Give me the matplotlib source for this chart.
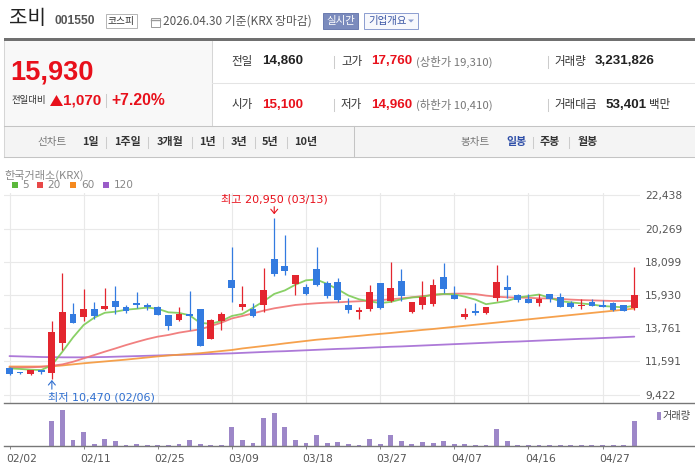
import matplotlib
matplotlib.use('Agg')
import numpy as np
import matplotlib.pyplot as plt
import matplotlib.transforms as mtransforms
from matplotlib.patches import Rectangle, Polygon
from matplotlib.lines import Line2D

# ---------------- data ----------------
dates = ['02/02', '02/03', '02/04', '02/05', '02/06', '02/09', '02/10', '02/11', '02/12', '02/13',
         '02/19', '02/20', '02/23', '02/24', '02/25', '02/26', '02/27',
         '03/03', '03/04', '03/05', '03/06', '03/09', '03/10', '03/11', '03/12', '03/13',
         '03/16', '03/17', '03/18', '03/19', '03/20', '03/23', '03/24', '03/25', '03/26', '03/27',
         '03/30', '03/31',
         '04/01', '04/02', '04/03', '04/06', '04/07', '04/08', '04/09', '04/10', '04/13', '04/14',
         '04/15', '04/16', '04/17', '04/20', '04/21', '04/22', '04/23', '04/24', '04/27', '04/28',
         '04/29', '04/30']
tick_labels = ['02/02', '02/11', '02/25', '03/09', '03/18', '03/27', '04/07', '04/16', '04/27']

opens = [11180, 10920, 10790, 11050, 10860, 12820, 14690, 14510, 15020, 15020,
         15540, 15150, 15430, 15280, 15150, 14620, 14300, 14690, 15020, 13080,
         14230, 16910, 15170, 15020, 15280, 18280, 17830, 16670, 16430, 17630,
         16740, 16780, 15280, 14840, 15020, 16710, 15560, 16840, 14820, 15280,
         15340, 17110, 15930, 14510, 14880, 14750, 15730, 16450, 15930, 15670,
         15410, 16000, 15800, 15410, 15230, 15470, 15280, 15410, 15280, 15100]
highs = [11250, 10920, 11030, 11060, 14230, 17350, 15390, 16300, 15470, 16390,
         16520, 15280, 16130, 15430, 15210, 14620, 15150, 16190, 15020, 14340,
         14820, 19070, 16520, 15410, 17690, 20950, 19850, 17240, 16630, 19070,
         16820, 17040, 15730, 15170, 16580, 16710, 18090, 17630, 15490, 16840,
         16980, 18020, 16520, 15080, 15410, 15150, 17890, 17240, 16000, 16000,
         16000, 16000, 16060, 15540, 15670, 15670, 15600, 15470, 15280, 17760]
lows = [10680, 10750, 10680, 10790, 10470, 12340, 14120, 14230, 14360, 14950,
        14690, 14780, 15100, 14950, 14650, 13670, 14250, 13670, 12620, 13080,
        13670, 15490, 14970, 14510, 14840, 17170, 17240, 15950, 15950, 16500,
        15760, 15470, 14780, 14380, 14880, 15040, 15490, 15540, 14780, 15020,
        15210, 16080, 15670, 14380, 14650, 14710, 15560, 15760, 15470, 15430,
        15210, 15490, 15150, 15100, 15020, 15230, 15170, 14910, 14860, 14960]
closes = [10790, 10860, 11030, 10900, 13510, 14820, 14120, 15020, 14580, 15210,
          15150, 14890, 15300, 15120, 14650, 13930, 14690, 14560, 12620, 14270,
          14690, 16410, 15340, 14580, 16260, 17320, 17520, 17240, 16020, 16560,
          15890, 15600, 14950, 14950, 16130, 15080, 16390, 15860, 15490, 15800,
          16580, 16300, 15670, 14690, 14780, 15150, 16780, 16260, 15600, 15430,
          15670, 15670, 15150, 15170, 15300, 15230, 15170, 14950, 14860, 15930]
volumes = [60000, 40000, 50000, 45000, 3250000, 4650000, 780000, 1810000, 260000, 900000,
           650000, 130000, 260000, 130000, 130000, 140000, 250000, 770000, 270000, 150000,
           150000, 2450000, 780000, 390000, 3620000, 4270000, 2460000, 770000, 400000, 1420000,
           380000, 520000, 250000, 160000, 900000, 280000, 1420000, 640000, 280000, 500000,
           380000, 650000, 270000, 260000, 150000, 150000, 2200000, 650000, 150000, 140000,
           130000, 140000, 150000, 130000, 120000, 130000, 80000, 130000, 140000, 3231826]

ma5 = [11140, 11100, 11050, 11030, 11350, 12230, 13160, 13970, 14450, 14770,
       14840, 14970, 15030, 15110, 15030, 14800, 14760, 14610, 14110, 14050,
       14230, 14560, 14700, 15100, 15520, 16000, 16230, 16600, 16890, 16940,
       16650, 16300, 15900, 15650, 15520, 15400, 15480, 15650, 15770, 15810,
       15950, 16000, 15970, 15820, 15630, 15330, 15430, 15540, 15760, 15860,
       15960, 15750, 15530, 15450, 15380, 15310, 15210, 15170, 15120, 15230]
ma20 = [11200, 11200, 11210, 11240, 11310, 11400, 11570, 11790, 12010, 12230,
        12440, 12660, 12860, 13050, 13210, 13320, 13470, 13580, 13690, 13900,
        14120, 14400, 14560, 14730, 14910, 15060, 15170, 15280, 15340, 15390,
        15430, 15450, 15490, 15520, 15560, 15600, 15650, 15710, 15780, 15860,
        15930, 15990, 16020, 16020, 15990, 15890, 15820, 15780, 15760, 15750,
        15710, 15700, 15670, 15630, 15600, 15580, 15560, 15540, 15540, 15540]
ma60 = [11260, 11260, 11260, 11260, 11270, 11330, 11400, 11470, 11530, 11590,
        11650, 11710, 11780, 11850, 11920, 11980, 12030, 12080, 12130, 12200,
        12270, 12340, 12440, 12520, 12600, 12680, 12770, 12850, 12930, 13010,
        13070, 13130, 13200, 13260, 13330, 13390, 13450, 13520, 13580, 13650,
        13710, 13780, 13850, 13920, 13990, 14060, 14130, 14200, 14270, 14340,
        14410, 14480, 14550, 14620, 14690, 14760, 14830, 14900, 14970, 15050]
ma120 = [11940, 11920, 11900, 11880, 11870, 11860, 11860, 11860, 11870, 11880,
         11900, 11920, 11940, 11960, 11980, 12000, 12020, 12040, 12060, 12080,
         12100, 12120, 12150, 12180, 12210, 12240, 12260, 12290, 12320, 12350,
         12380, 12410, 12430, 12460, 12490, 12520, 12550, 12570, 12600, 12630,
         12660, 12690, 12720, 12750, 12780, 12810, 12840, 12870, 12890, 12920,
         12950, 12980, 13010, 13040, 13070, 13090, 13120, 13150, 13180, 13210]
price_ticks = [9422, 11591, 13761, 15930, 18099, 20269, 22438]
ma_labels = ['5', '20', '60', '120']

# header info
name, code, market = '조비', '001550', '코스피'
asof = '2026.04.30 기준(KRX 장마감)'
price, change, pct = '15,930', '1,070', '+7.20%'

# ---------------- style ----------------
KR = ['Noto Sans CJK KR', 'DejaVu Sans']
LIB = ['Liberation Sans', 'DejaVu Sans']
DV = ['DejaVu Sans', 'Noto Sans CJK KR']
plt.rcParams['font.family'] = DV
RED = '#e8101b'
UP = '#e3262f'
DOWN = '#337be0'
ANN_BLUE = '#2f6fd0'
MA_COLORS = ['#7ccb55', '#f07272', '#f5973a', '#a46bd4']
LEG_COLORS = ['#5cb83c', '#e84848', '#f5891f', '#9a5cc8']
VOL = '#9d87c8'

W, H = 695, 471
fig = plt.figure(figsize=(W / 100, H / 100), dpi=100)
fig.patch.set_facecolor('white')


def fx(x):
    return x / W


def fy(y):
    return 1 - y / H


def T(x, y, s, size=8, color='#333', weight='normal', ha='left', va='center', family=KR):
    fig.text(fx(x), fy(y), s, fontsize=size, color=color, fontweight=weight,
             ha=ha, va=va, family=family)


def R(x0, y0, x1, y1, fc='none', ec='none', lw=0.7):
    fig.add_artist(Rectangle((fx(x0), fy(y1)), fx(x1) - fx(x0), fy(y0) - fy(y1),
                             transform=fig.transFigure, facecolor=fc, edgecolor=ec, linewidth=lw))


def L(x0, y0, x1, y1, color='#ccc', lw=0.75):
    fig.add_artist(Line2D([fx(x0), fx(x1)], [fy(y0), fy(y1)], transform=fig.transFigure,
                          color=color, linewidth=lw))


def P(pts, color):
    fig.add_artist(Polygon([(fx(a), fy(b)) for a, b in pts], closed=True,
                           transform=fig.transFigure, facecolor=color, edgecolor='none'))


# ---------------- header ----------------
T(9, 18.5, name, 14.5, '#222')
T(55, 21, code, 8.7, '#555', 'bold', family=LIB)
R(106, 14, 137, 28, fc='white', ec='#b5b5b5')
T(121.5, 21, market, 7, '#333', ha='center')
R(151, 17.5, 160, 26.5, fc='white', ec='#9a9a9a')
L(151, 19.5, 160, 19.5, '#9a9a9a', 1.0)
T(163, 21, asof, 8.5, '#555')
R(323, 13, 358, 29, fc='#7b8bbd', ec='#6b7bb0')
T(340.5, 21, '실시간', 7.5, 'white', ha='center')
R(364, 13, 418, 29, fc='#f7f8fc', ec='#8b9dd0')
T(368, 21, '기업개요', 7.5, '#3c57a5')
P([(408, 19.5), (414, 19.5), (411, 22.5)], '#8b9dd0')

R(4, 37.5, 695, 40.5, fc='#707070')
R(4, 40.5, 212, 126, fc='#f8f8f8')
L(212, 40.5, 212, 126, '#d6d6d6')
L(4, 40.5, 4, 157, '#d6d6d6')
L(212, 83, 695, 83, '#e4e4e4')

T(10, 73, price, 19.6, RED, 'bold', family=LIB)
T(11, 100.5, '전일대비', 6.8, '#333')
P([(50, 106), (63, 106), (56.5, 95)], RED)
T(63.5, 100.5, change, 11, RED, 'bold', family=LIB)
L(105.5, 94, 105.5, 107, '#cccccc')
T(111, 100.5, pct, 11.3, RED, 'bold', family=LIB)

rows = [
    (61.5, [('전일', '14,860', '#222'), ('고가', '17,760', RED)], '(상한가 19,310)', '거래량', '3,231,826', ''),
    (104.5, [('시가', '15,100', RED), ('저가', '14,960', RED)], '(하한가 10,410)', '거래대금', '53,401', '백만'),
]
for y, pairs, limit, lab3, val3, unit in rows:
    T(231, y, pairs[0][0], 8.3, '#333')
    T(262, y, pairs[0][1], 9.6, pairs[0][2], 'bold', family=LIB)
    L(334, y - 6, 334, y + 6, '#cccccc')
    T(341, y, pairs[1][0], 8.3, '#333')
    T(371, y, pairs[1][1], 9.6, pairs[1][2], 'bold', family=LIB)
    T(416, y, limit, 8.2, '#777')
    L(548, y - 6, 548, y + 6, '#cccccc')
    T(554, y, lab3, 8.3, '#333')
    if unit:
        T(606, y, val3, 9.6, '#222', 'bold', family=LIB)
        T(649, y, unit, 8.3, '#333')
    else:
        T(595, y, val3, 9.6, '#222', 'bold', family=LIB)

# toolbar
R(4, 126, 695, 157, fc='#f4f4f4')
L(4, 126, 695, 126, '#c4c4c4')
L(4, 157, 695, 157, '#c4c4c4')
L(354, 126, 354, 157, '#c4c4c4')
T(37, 142, '선차트', 7.6, '#777')
for s, x in [('1일', 82), ('1주일', 114), ('3개월', 157), ('1년', 199), ('3년', 231), ('5년', 262), ('10년', 294)]:
    T(x, 142, s, 7.9, '#333', 'bold')
for x in [106, 148, 192, 223, 255, 287]:
    L(x, 137, x, 148, '#cccccc')
T(460, 142, '봉차트', 7.6, '#777')
T(506, 142, '일봉', 7.9, '#2f4fa8', 'bold')
L(533, 137, 533, 148, '#cccccc')
T(540, 142, '주봉', 7.9, '#333', 'bold')
L(569, 137, 569, 148, '#cccccc')
T(578, 142, '월봉', 7.9, '#333', 'bold')

# chart legend
T(4, 175, '한국거래소(KRX)', 8, '#888')
for (sx, tx), lab, c in zip([(11.7, 21.7), (36.7, 47.7), (70, 81), (102.7, 114.3)], ma_labels, LEG_COLORS):
    R(sx, 181.7, sx + 6, 187.5, fc=c)
    T(tx, 184.6, lab, 7.6, '#888', family=DV)

# ---------------- price panel ----------------
n = len(dates)
idx = np.arange(n)
o = np.array(opens, float)
h = np.array(highs, float)
lo = np.array(lows, float)
c = np.array(closes, float)
ups = c >= o
cols = np.where(ups, UP, DOWN)
x_left = -0.52
x_right = 59.54

ax = fig.add_axes([fx(4), fy(403), fx(640) - fx(4), fy(193) - fy(403)])
ax.set_xlim(x_left, x_right)
ax.set_ylim(8877, 22591)
for s in ax.spines.values():
    s.set_visible(False)
tick_pos = [dates.index(t) for t in tick_labels]
ax.set_xticks(tick_pos)
ax.set_xticklabels([])
ax.tick_params(axis='x', length=0)
ax.yaxis.tick_right()
ax.set_yticks(price_ticks)
ax.set_yticklabels([f'{v:,}' for v in price_ticks])
ax.tick_params(axis='y', length=0, pad=3.6, labelsize=7.7, labelcolor='#555')
ax.grid(True, color='#e9e9e9', linewidth=0.8)
ax.set_axisbelow(True)

for vals, col in zip([ma120, ma60, ma20, ma5], MA_COLORS[::-1]):
    ax.plot(idx, vals, color=col, linewidth=1.3, alpha=0.9, zorder=2, solid_capstyle='round')

ax.vlines(idx, lo, h, colors=cols, linewidth=0.9, zorder=3)
bottoms = np.minimum(o, c)
heights = np.maximum(np.abs(c - o), 70)
ax.bar(idx, heights, bottom=bottoms, width=0.64, color=cols, linewidth=0, zorder=4)

i_hi = int(np.argmax(h))
i_lo = int(np.argmin(lo))
ax.annotate(f'최고 {int(h[i_hi]):,} ({dates[i_hi]})', xy=(i_hi, h[i_hi]), xytext=(0, 13.8),
            textcoords='offset points', ha='center', va='center', color=RED, fontsize=8, family=DV)
ax.annotate('', xy=(i_hi, h[i_hi]), xytext=(0, 8.2), textcoords='offset points',
            arrowprops=dict(arrowstyle='->,head_length=0.3,head_width=0.25', color=RED, lw=0.8,
                            shrinkA=0, shrinkB=2.8))
ax.annotate(f'최저 {int(lo[i_lo]):,} ({dates[i_lo]})', xy=(i_lo, lo[i_lo]), xytext=(-3, -13.3),
            textcoords='offset points', ha='left', va='center', color=ANN_BLUE, fontsize=8, family=DV)
ax.annotate('', xy=(i_lo, lo[i_lo]), xytext=(0, -7.6), textcoords='offset points',
            arrowprops=dict(arrowstyle='->,head_length=0.3,head_width=0.25', color=ANN_BLUE, lw=0.8,
                            shrinkA=0, shrinkB=1.0))

# ---------------- volume panel ----------------
ax2 = fig.add_axes([fx(4), fy(446), fx(640) - fx(4), fy(404) - fy(446)])
ax2.set_xlim(x_left, x_right)
ax2.set_ylim(0, 3231826 * 42 / 25)
ax2.bar(idx, volumes, width=0.46, color=VOL, linewidth=0)
for s in ax2.spines.values():
    s.set_visible(False)
ax2.set_yticks([])
ax2.set_xticks(tick_pos)
ax2.set_xticklabels(tick_labels)
ax2.tick_params(axis='x', length=2.5, width=0.7, color='#888', pad=3.5, labelsize=7.7, labelcolor='#555')
shift = mtransforms.ScaledTranslation(-3.5 / 100, 0, fig.dpi_scale_trans)
for lab in ax2.get_xticklabels():
    lab.set_horizontalalignment('left')
    lab.set_transform(lab.get_transform() + shift)
ax2.patch.set_alpha(0)

L(4, 403, 695, 403, '#777777', 1.0)
L(4, 446, 695, 446, '#777777', 1.0)
R(657, 411.5, 660.5, 420, fc=VOL)
T(662.5, 415.5, '거래량', 7.3, '#444')

fig.savefig('out.png', dpi=100, facecolor='white')
